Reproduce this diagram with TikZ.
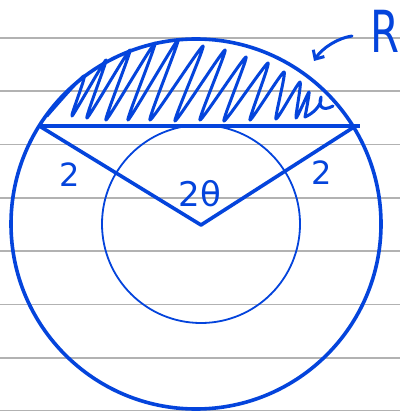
\documentclass[tikz,border=0pt]{standalone}
\usepackage{fontspec}
\setmainfont{DejaVu Sans}
\usetikzlibrary{arrows.meta}
\definecolor{ink}{RGB}{4,68,220}
\definecolor{rule}{RGB}{178,178,178}
\begin{document}
\begin{tikzpicture}[x=1pt,y=-1pt,
  paperline/.style={draw=rule,line width=1.4pt},
  inkthick/.style={draw=ink,line width=3.6pt},
  inkthin/.style={draw=ink,line width=1.8pt},
  hatch/.style={draw=ink,line width=3pt,line cap=round,line join=round},
  lbl/.style={text=ink,inner sep=0pt}]
\useasboundingbox (0,0) rectangle (400,411);
\fill[white] (0,0) rectangle (400,411);
% ruled paper
\foreach \y in {38,91,144.5,198,251,304.5,358,410.5}
  \draw[paperline] (0,\y) -- (400,\y);
% circles
\coordinate (O) at (196,224);
\coordinate (C) at (201,225);
\draw[inkthick] (O) circle[radius=185];
\draw[inkthin] (201,224) circle[radius=99];
% chord and radii
\coordinate (A) at (39,126);
\coordinate (B) at (360,126);
\coordinate (Bt) at (354,127);
\draw[inkthick,line join=round] (A) -- (B);
\draw[inkthick,line join=round] (41,127) -- (C) -- (Bt);
% hatching
\draw[hatch] plot[smooth,tension=0.35] coordinates {
  (47,116) (84,76) (72,116) (106,60) (87,118) (130,50) (106,120) (155,43)
  (128,120) (178,40) (150,120) (203,46) (175,121) (225,50) (200,120)
  (246,57) (224,121) (268,63) (250,120) (284,72) (276,119) (300,82)
  (296,118) (309,92) (305,117)};
\draw[hatch] (305,117) .. controls (312,114) and (322,106) .. (321,97)
  .. controls (318,106) and (322,112) .. (333,106);
% labels
\node[lbl,font=\fontsize{32}{32}\selectfont] (two1) at (70,175) {2};
\node[lbl,font=\fontsize{32}{32}\selectfont] (two2) at (322,173) {2};
\node[lbl,font=\fontsize{34}{34}\selectfont] (ang) at (200,194) {2θ};
\node[lbl,font=\fontsize{58}{58}\selectfont] (R) at (385,31) {\scalebox{0.72}[1]{R}};
% arrow to region
\coordinate (tip) at (314,61);
\draw[ink,line width=3pt,line cap=round,-{Straight Barb[length=7pt,width=13pt]}]
  (352,36) .. controls (338,38) and (322,48) .. (tip);
\end{tikzpicture}
\end{document}
